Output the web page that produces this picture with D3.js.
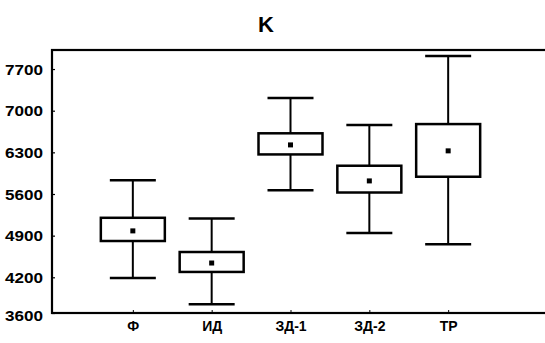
<!DOCTYPE html>
<html>
<head>
<meta charset="utf-8">
<script src="https://cdn.jsdelivr.net/npm/d3@7"></script>
<style>
  body { margin: 0; background: #fff; }
  text { font-family: "Liberation Sans", Arial, sans-serif; font-weight: bold; fill: #000; }
</style>
</head>
<body>
<div id="chart"></div>
<script>
// mean, ±box and whisker ends
const categories = ["Ф", "ИД", "ЗД-1", "ЗД-2", "ТР"]
const means = [4980, 4440, 6425, 5820, 6325]
const boxLow = [4810, 4290, 6265, 5625, 5890]
const boxHigh = [5200, 4625, 6620, 6075, 6775]
const whiskerLow = [4190, 3745, 5665, 4945, 4755]
const whiskerHigh = [5830, 5190, 7215, 6760, 7920]
const yTicks = [3600, 4200, 4900, 5600, 6300, 7000, 7700]
const title = "K"

const width = 545, height = 343
const plotLeft = 52, plotTop = 50, plotBottom = 313

const svg = d3.select("#chart").append("svg")
    .attr("width", width)
    .attr("height", height)

const x = d3.scalePoint().domain(categories).range([54, 527]).padding(1)
const y = d3.scaleLinear().domain([3600, 8020]).range([plotBottom, plotTop])

const rows = categories.map((c, i) => ({
    cat: c, mean: means[i], lo: boxLow[i], hi: boxHigh[i], wlo: whiskerLow[i], whi: whiskerHigh[i]
}))

svg.append("text")
    .attr("x", 266).attr("y", 32)
    .attr("text-anchor", "middle")
    .style("font-size", "22px")
    .text(title)

// frame
svg.append("rect")
    .attr("x", plotLeft).attr("y", plotTop)
    .attr("width", width - plotLeft + 5).attr("height", plotBottom - plotTop)
    .attr("fill", "none").attr("stroke", "#000").attr("stroke-width", 2.2)

// y axis labels + small inner ticks
const yAxis = d3.axisLeft(y).tickValues(yTicks).tickFormat(d3.format("d")).tickSize(-3).tickPadding(9)
const ya = svg.append("g").attr("transform", `translate(${plotLeft},0)`).call(yAxis)
ya.select(".domain").remove()
ya.selectAll("line").attr("stroke-width", 1.2)
ya.selectAll("text")
    .style("font-size", "14px")
    .attr("textLength", 38).attr("lengthAdjust", "spacingAndGlyphs")
    .attr("dy", "0.36em")
ya.select(".tick:first-of-type text").attr("dy", "0.5em")

// x axis labels
const xAxis = d3.axisBottom(x).tickSize(-3).tickPadding(8)
const xa = svg.append("g").attr("transform", `translate(0,${plotBottom})`).call(xAxis)
xa.select(".domain").remove()
xa.selectAll("text").style("font-size", "14px")

const boxW = 64, capW = 46
const g = svg.append("g").selectAll("g").data(rows).enter().append("g")

g.append("line")
    .attr("x1", d => x(d.cat)).attr("x2", d => x(d.cat))
    .attr("y1", d => y(d.whi)).attr("y2", d => y(d.wlo))
    .attr("stroke", "#000").attr("stroke-width", 2)

g.selectAll(".cap").data(d => [[d.cat, d.whi], [d.cat, d.wlo]]).enter().append("line")
    .attr("x1", d => x(d[0]) - capW / 2).attr("x2", d => x(d[0]) + capW / 2)
    .attr("y1", d => y(d[1])).attr("y2", d => y(d[1]))
    .attr("stroke", "#000").attr("stroke-width", 2.5)

g.append("rect")
    .attr("x", d => x(d.cat) - boxW / 2)
    .attr("y", d => y(d.hi))
    .attr("width", boxW)
    .attr("height", d => y(d.lo) - y(d.hi))
    .attr("fill", "#fff").attr("stroke", "#000").attr("stroke-width", 2.5)

g.append("rect")
    .attr("x", d => x(d.cat) - 2.5)
    .attr("y", d => y(d.mean) - 2.5)
    .attr("width", 5).attr("height", 5)
    .attr("fill", "#000")
</script>
</body>
</html>
